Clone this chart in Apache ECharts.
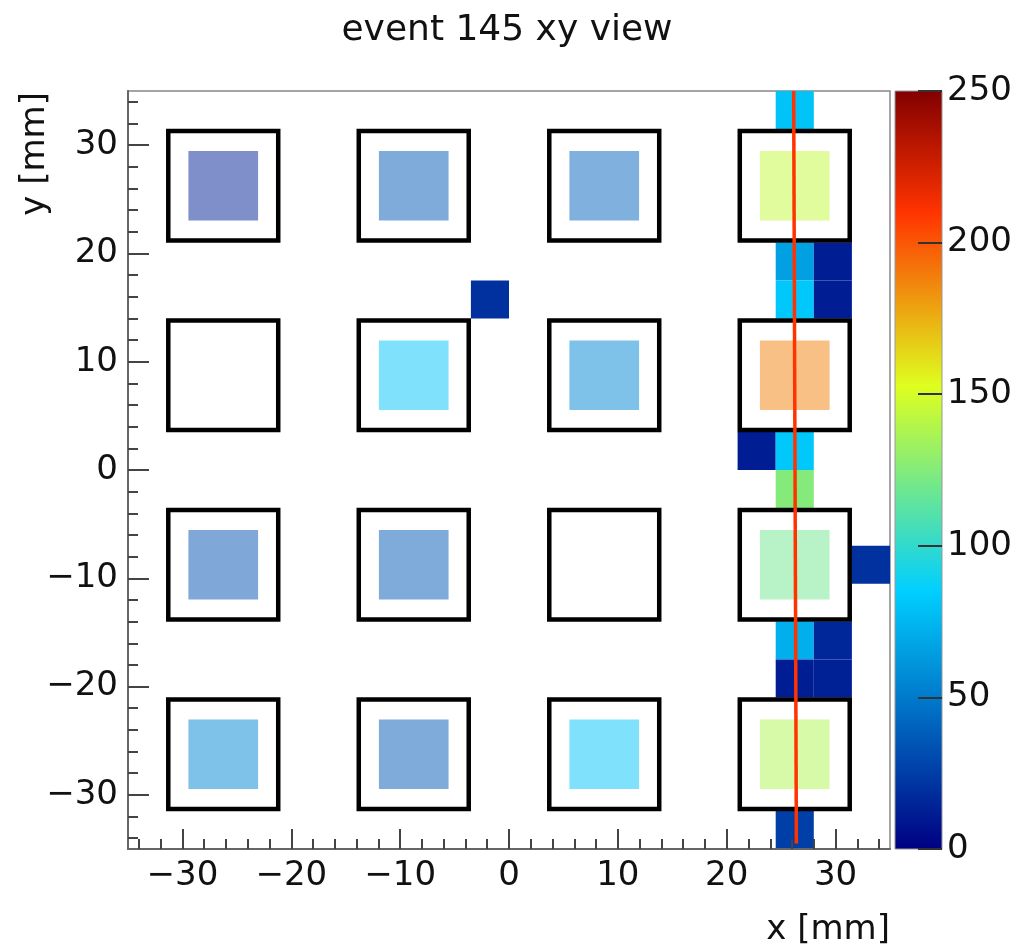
<!DOCTYPE html>
<html><head><meta charset="utf-8">
<script src="https://cdn.jsdelivr.net/npm/echarts@6/dist/echarts.min.js"></script>
<style>html,body{margin:0;padding:0;background:#fff}#c{width:1014px;height:949px}</style>
</head><body><div id="c"></div>
<script>
// ---------- data ----------
const titleText = 'event 145 xy view';
const xName = 'x [mm]';
const yName = 'y [mm]';
const xTicks = [-30, -20, -10, 0, 10, 20, 30];
const yTicks = [-30, -20, -10, 0, 10, 20, 30];
const minorTicks = [-34, -32, -28, -26, -24, -22, -18, -16, -14, -12, -8, -6, -4, -2,
                    2, 4, 6, 8, 12, 14, 16, 18, 22, 24, 26, 28, 32, 34];
const zTicks = [0, 50, 100, 150, 200, 250];

// readout cells (lower-left corner in mm, 3.5 mm bins)
const binSize = 3.5;
const cellX = [24.5, 24.5, 24.5, 28, 28, -3.5, 21, 24.5, 24.5, 31.5, 24.5, 28, 24.5, 28, 24.5];
const cellY = [31.5, 17.5, 14, 17.5, 14, 14, 0, 0, -3.5, -10.5, -17.5, -17.5, -21, -21, -35];
const cellValue = [80, 66, 82, 12, 12, 20, 12, 82, 125, 20, 72, 16, 12, 13, 26];

// detector boxes (centres in mm)
const boxCentersX = [-26.25, -8.75, 8.75, 26.25];
const boxCentersY = [26.25, 8.75, -8.75, -26.25];
const boxHalf = 5.05;

// inner pads
const padX = [-26.25, -8.75, 8.75, 26.25, -8.75, 8.75, 26.25, -26.25, -8.75, 26.25, -26.25, -8.75, 8.75, 26.25];
const padY = [26.25, 26.25, 26.25, 26.25, 8.75, 8.75, 8.75, -8.75, -8.75, -8.75, -26.25, -26.25, -26.25, -26.25];
const padValue = [13, 36, 40, 144, 80, 55, 188, 33, 36, 119, 55, 36, 80, 138];
const padHalf = 3.2;

// track line
const trackX = [26.15, 26.4];
const trackY = [35, -34.5];

// colour palette (ROOT rainbow stops)
const palStops = [0, 0.34, 0.61, 0.84, 1];
const palR = [0, 0, 222, 255, 130];
const palG = [0, 207, 255, 51, 0];
const palB = [130, 255, 31, 0, 0];
const zMin = 0, zMax = 250;

// ---------- build ----------
function palColor(t) {
  let i = 0;
  while (i < palStops.length - 2 && t > palStops[i + 1]) i++;
  const f = (t - palStops[i]) / (palStops[i + 1] - palStops[i]);
  const c = (a) => Math.round(a[i] + (a[i + 1] - a[i]) * f);
  return 'rgb(' + c(palR) + ',' + c(palG) + ',' + c(palB) + ')';
}
const paletteList = [];
for (let k = 0; k <= 50; k++) paletteList.push(palColor(k / 50));

const cellData = cellX.map((x, i) => [x, cellY[i], cellValue[i]]);
const padData = padX.map((x, i) => [x, padY[i], padValue[i]]);
const boxData = [];
boxCentersY.forEach(y => boxCentersX.forEach(x => boxData.push([x, y])));
const trackData = trackX.map((x, i) => [x, trackY[i]]);

function fmt(v) { return v < 0 ? '\u2212' + Math.abs(v) : String(v); }
const FONT = 'DejaVu Sans';
const labelStyle = { fontFamily: FONT, fontSize: 34, color: '#111' };
const tickLine = { color: '#444', width: 2 };

const chart = echarts.init(document.getElementById('c'), null, { renderer: 'canvas' });
chart.setOption({
  animation: false,
  backgroundColor: '#fff',
  title: {
    text: titleText, left: 'center', top: 8,
    textStyle: { fontFamily: FONT, fontSize: 36, fontWeight: 'normal', color: '#111' }
  },
  grid: [
    { left: 128, top: 91, width: 762, height: 758, show: true, borderColor: '#888', borderWidth: 1.5,
      backgroundColor: 'transparent', outerBoundsMode: 'none' },
    { left: 895, top: 91, width: 47, height: 758, show: false, outerBoundsMode: 'none' }
  ],
  xAxis: [
    { gridIndex: 0, type: 'value', min: -35, max: 35, position: 'bottom', z: 10,
      axisLine: { onZero: false, lineStyle: { color: '#666', width: 2 } },
      axisTick: { inside: true, length: 20, customValues: xTicks, lineStyle: tickLine },
      axisLabel: Object.assign({ customValues: xTicks, formatter: fmt, margin: 10 }, labelStyle),
      splitLine: { show: false } },
    { gridIndex: 0, type: 'value', min: -35, max: 35, position: 'bottom', z: 10,
      axisLine: { show: false, onZero: false },
      axisTick: { inside: true, length: 10, customValues: minorTicks, lineStyle: tickLine },
      axisLabel: { show: false }, splitLine: { show: false } },
    { gridIndex: 1, type: 'value', min: 0, max: 1, show: false }
  ],
  yAxis: [
    { gridIndex: 0, type: 'value', min: -35, max: 35, position: 'left', z: 10,
      axisLine: { onZero: false, lineStyle: { color: '#666', width: 2 } },
      axisTick: { inside: true, length: 21, customValues: yTicks, lineStyle: tickLine },
      axisLabel: Object.assign({ customValues: yTicks, formatter: fmt, margin: 10 }, labelStyle),
      splitLine: { show: false } },
    { gridIndex: 0, type: 'value', min: -35, max: 35, position: 'left', z: 10,
      axisLine: { show: false, onZero: false },
      axisTick: { inside: true, length: 10, customValues: minorTicks, lineStyle: tickLine },
      axisLabel: { show: false }, splitLine: { show: false } },
    { gridIndex: 1, type: 'value', min: zMin, max: zMax, interval: 50, position: 'right', z: 10,
      axisLine: { show: false, onZero: false },
      axisTick: { inside: true, length: 24, lineStyle: { color: '#333', width: 2 } },
      axisLabel: Object.assign({ margin: 5 }, labelStyle),
      splitLine: { show: false } }
  ],
  visualMap: {
    type: 'continuous', show: false, min: zMin, max: zMax, dimension: 2,
    seriesIndex: [0, 2], inRange: { color: paletteList }
  },
  series: [
    { type: 'custom', name: 'cells', xAxisIndex: 0, yAxisIndex: 0, z: 2, data: cellData,
      renderItem: function (params, api) {
        const x0 = api.value(0), y0 = api.value(1);
        const p0 = api.coord([x0, y0 + binSize]);
        const p1 = api.coord([x0 + binSize, y0]);
        return { type: 'rect', shape: { x: p0[0], y: p0[1], width: p1[0] - p0[0], height: p1[1] - p0[1] },
                 style: { fill: api.visual('color') } };
      } },
    { type: 'custom', name: 'boxes', xAxisIndex: 0, yAxisIndex: 0, z: 3, data: boxData,
      renderItem: function (params, api) {
        const cx = api.value(0), cy = api.value(1);
        const p0 = api.coord([cx - boxHalf, cy + boxHalf]);
        const p1 = api.coord([cx + boxHalf, cy - boxHalf]);
        return { type: 'rect', shape: { x: p0[0], y: p0[1], width: p1[0] - p0[0], height: p1[1] - p0[1] },
                 style: { fill: 'none', stroke: '#000', lineWidth: 4.5 } };
      } },
    { type: 'custom', name: 'pads', xAxisIndex: 0, yAxisIndex: 0, z: 4, data: padData,
      renderItem: function (params, api) {
        const cx = api.value(0), cy = api.value(1);
        const p0 = api.coord([cx - padHalf, cy + padHalf]);
        const p1 = api.coord([cx + padHalf, cy - padHalf]);
        return { type: 'rect', shape: { x: p0[0], y: p0[1], width: p1[0] - p0[0], height: p1[1] - p0[1] },
                 style: { fill: api.visual('color'), opacity: 0.5 } };
      } },
    { type: 'line', name: 'track', xAxisIndex: 0, yAxisIndex: 0, z: 5, data: trackData,
      showSymbol: false, symbol: 'none', lineStyle: { color: '#ff3300', width: 3.5 } },
    { type: 'custom', name: 'colorbar', xAxisIndex: 2, yAxisIndex: 2, z: 2, data: [[0, zMax]],
      renderItem: function (params, api) {
        const p0 = api.coord([0, zMax]);
        const p1 = api.coord([1, zMin]);
        return { type: 'rect', shape: { x: p0[0], y: p0[1], width: p1[0] - p0[0], height: p1[1] - p0[1] },
                 style: { stroke: '#999', lineWidth: 1,
                   fill: new echarts.graphic.LinearGradient(0, 1, 0, 0,
                     palStops.map((s) => ({ offset: s, color: palColor(s) }))) } };
      } }
  ],
  graphic: [
    { type: 'text', x: 890, y: 930, z: 20,
      style: { text: xName, font: '34px "DejaVu Sans"', fill: '#111', align: 'right', verticalAlign: 'middle' } },
    { type: 'text', x: 35, y: 92, rotation: Math.PI / 2, z: 20,
      style: { text: yName, font: '34px "DejaVu Sans"', fill: '#111', align: 'right', verticalAlign: 'middle' } }
  ]
});
</script>
</body></html>
